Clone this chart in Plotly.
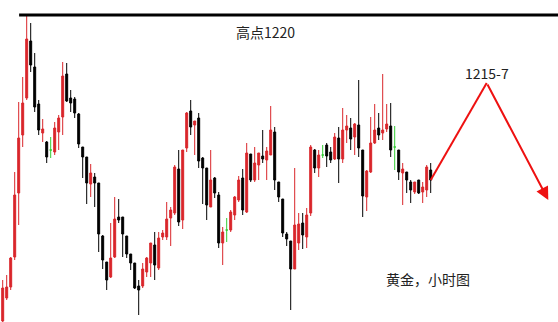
import plotly.graph_objects as go

# Hourly gold candles (price units)
opens = [1189.4,1191.7,1192.8,1195.8,1202.2,1208.0,1211.7,1217.4,1214.8,1211.1,
         1208.2,1207.3,1206.5,1206.3,1208.3,1209.8,1214.1,1211.7,1211.6,1210.1,
         1206.8,1205.8,1203.1,1203.8,1203.2,1197.9,1195.3,1193.8,1195.8,1199.8,
         1199.8,1197.9,1196.1,1195.2,1192.9,1192.9,1194.3,1195.2,1197.0,1194.7,
         1197.8,1197.8,1199.7,1200.2,1204.6,1199.5,1206.7,1210.4,1209.0,1209.7,
         1205.7,1204.7,1200.8,1203.7,1202.0,1197.2,1198.5,1198.5,1200.0,1201.5,
         1203.7,1200.3,1206.1,1203.5,1205.0,1205.9,1205.5,1206.0,1208.3,1203.3,
         1201.6,1198.1,1197.4,1194.6,1197.2,1199.2,1197.8,1200.2,1206.5,1204.7,
         1206.0,1207.0,1206.3,1205.6,1207.7,1205.6,1208.5,1208.7,1207.8,1209.0,
         1206.5,1201.8,1204.3,1207.2,1208.7,1208.2,1208.6,1208.9,1206.8,1206.5,
         1204.2,1204.3,1203.3,1202.3,1203.5,1202.3,1202.5,1204.5]
highs = [1193.5,1194.0,1195.8,1204.3,1211.3,1213.8,1220.0,1219.2,1216.2,1211.5,
         1209.6,1207.4,1207.8,1209.3,1210.0,1215.3,1215.2,1212.5,1211.8,1210.2,
         1206.8,1205.8,1205.1,1204.2,1203.2,1198.0,1195.3,1199.2,1201.8,1201.6,
         1199.8,1197.9,1196.1,1195.2,1193.5,1195.2,1195.8,1197.2,1198.3,1198.3,
         1198.5,1201.3,1200.8,1205.0,1206.5,1206.5,1210.3,1211.5,1209.4,1210.2,
         1205.8,1204.7,1206.5,1203.8,1202.3,1198.8,1199.7,1200.5,1201.9,1203.9,
         1204.6,1207.2,1206.1,1206.8,1206.2,1208.5,1206.8,1210.9,1208.8,1203.3,
         1201.6,1198.3,1197.4,1204.7,1200.2,1200.2,1200.7,1207.0,1206.6,1206.5,
         1207.0,1207.2,1206.8,1208.2,1208.8,1210.7,1210.0,1209.7,1209.2,1213.5,
         1206.5,1204.5,1209.8,1211.1,1210.2,1214.1,1211.1,1211.2,1208.9,1206.5,
         1205.2,1204.3,1203.5,1203.3,1203.5,1203.3,1205.0,1205.2]
lows = [1189.1,1191.5,1192.5,1195.5,1199.0,1206.8,1211.5,1214.3,1210.3,1208.0,
        1207.3,1205.2,1205.7,1206.0,1206.5,1208.0,1211.3,1210.3,1209.7,1206.7,
        1203.7,1201.1,1201.8,1200.8,1196.3,1194.6,1192.5,1193.7,1195.7,1199.2,
        1195.8,1195.7,1194.5,1192.6,1190.0,1192.7,1193.8,1193.8,1193.5,1194.5,
        1197.5,1197.5,1196.9,1200.0,1198.9,1198.6,1206.3,1208.0,1206.0,1204.7,
        1201.1,1199.5,1200.8,1201.7,1196.7,1195.0,1197.3,1198.3,1199.5,1201.3,
        1200.0,1200.2,1203.3,1203.3,1203.5,1205.2,1203.5,1206.0,1202.5,1201.3,
        1197.8,1196.9,1190.5,1194.6,1196.5,1196.6,1196.7,1199.9,1204.2,1203.8,
        1205.7,1204.8,1205.2,1205.5,1203.2,1205.2,1207.2,1206.5,1206.0,1205.8,
        1199.8,1200.4,1204.2,1207.1,1207.5,1207.5,1208.3,1205.8,1204.5,1203.5,
        1201.0,1202.2,1201.2,1202.1,1202.1,1201.2,1201.8,1202.2]
closes = [1192.7,1192.8,1195.7,1202.0,1207.7,1211.2,1217.6,1215.0,1210.8,1208.5,
          1208.6,1205.8,1206.5,1208.7,1209.7,1213.9,1211.4,1211.2,1210.2,1207.1,
          1205.8,1203.2,1204.2,1203.2,1198.1,1195.5,1193.5,1195.7,1199.6,1199.5,
          1198.1,1196.1,1195.2,1192.7,1192.5,1194.6,1195.7,1197.2,1195.0,1197.7,
          1198.2,1199.6,1200.5,1204.8,1199.3,1206.5,1210.2,1208.8,1209.4,1205.4,
          1204.7,1201.0,1203.5,1202.2,1197.2,1198.3,1198.5,1200.3,1201.8,1203.5,
          1200.5,1206.2,1203.5,1205.2,1206.2,1205.6,1206.4,1208.5,1203.5,1201.8,
          1198.2,1197.6,1194.6,1199.0,1199.1,1198.0,1200.0,1206.8,1204.7,1206.0,
          1206.0,1205.9,1205.5,1207.8,1205.6,1208.5,1208.9,1207.6,1209.1,1206.7,
          1201.9,1204.4,1207.2,1208.5,1208.0,1208.5,1209.1,1206.5,1206.8,1204.3,
          1204.6,1203.5,1202.5,1203.3,1202.2,1202.8,1204.8,1203.5]
idx = list(range(len(opens)))

# Projection path
proj_x = [107, 121, 136.4]
proj_y = [1203.5, 1213.2, 1201.5]
high_level = 1220
high_label = "高点1220"
target_label = "1215-7"
title_label = "黄金，小时图"

RED = "#d9262b"
BLACK = "#000000"
GREEN = "#33cc33"

def subset(cond):
    sel = [i for i in idx if cond(opens[i], closes[i])]
    return ([idx[i] for i in sel], [opens[i] for i in sel], [highs[i] for i in sel],
            [lows[i] for i in sel], [closes[i] for i in sel])

fig = go.Figure()
for cond, col in [(lambda o, c: c > o, RED), (lambda o, c: c < o, BLACK), (lambda o, c: c == o, GREEN)]:
    x, o, h, l, c = subset(cond)
    fig.add_trace(go.Candlestick(
        x=x, open=o, high=h, low=l, close=c,
        increasing=dict(line=dict(color=col, width=1), fillcolor=col),
        decreasing=dict(line=dict(color=col, width=1), fillcolor=col),
        whiskerwidth=0, showlegend=False, hoverinfo="skip"))

fig.add_trace(go.Scatter(x=proj_x[:2], y=proj_y[:2], mode="lines",
                         line=dict(color="#ee1111", width=2), showlegend=False, hoverinfo="skip"))
fig.add_annotation(x=proj_x[2], y=proj_y[2], ax=proj_x[1], ay=proj_y[1],
                   xref="x", yref="y", axref="x", ayref="y", text="",
                   showarrow=True, arrowhead=2, arrowsize=1.3, arrowwidth=2, arrowcolor="#ee1111")

fig.add_shape(type="line", x0=4.1, x1=139, y0=high_level, y1=high_level,
              xref="x", yref="y", line=dict(color="black", width=3))

font = dict(family="Noto Sans CJK SC, Microsoft YaHei, sans-serif", size=14, color="#222222")
fig.add_annotation(x=65.8, y=1218.3, text=high_label, showarrow=False, font=font)
fig.add_annotation(x=121, y=1214.2, text=target_label, showarrow=False, font=font)
fig.add_annotation(x=106.3, y=1193.6, text=title_label, showarrow=False, font=font)

fig.update_layout(
    width=558, height=322, margin=dict(l=0, r=0, t=0, b=0),
    paper_bgcolor="white", plot_bgcolor="white", boxgap=0.3,
    xaxis=dict(range=[-0.675, 138.825], visible=False, rangeslider=dict(visible=False), fixedrange=True),
    yaxis=dict(range=[1189.3, 1221.5], visible=False, fixedrange=True),
)
fig.write_html("out.html", config={"displayModeBar": False})
